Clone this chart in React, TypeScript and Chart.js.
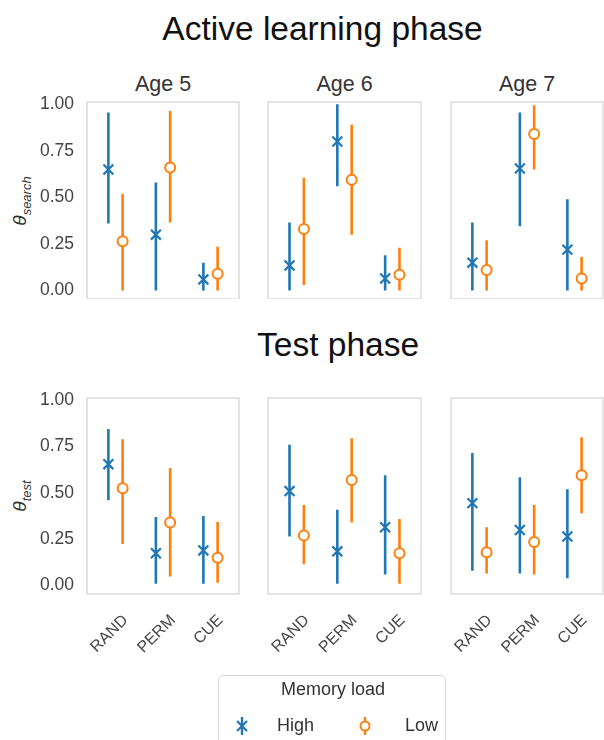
import React, { useEffect, useRef } from 'react';
import { Chart, registerables } from 'chart.js';

Chart.register(...registerables);

// ---------- data ----------
const categories = ['RAND', 'PERM', 'CUE'];
const ages = ['Age 5', 'Age 6', 'Age 7'];
const yTickValues = [0, 0.25, 0.5, 0.75, 1.0];
const seriesNames = ['High', 'Low'];

// Active learning phase (theta_search), rows = ages, cols = categories
const searchHighMean = [[0.65, 0.30, 0.06], [0.135, 0.80, 0.065], [0.15, 0.655, 0.22]];
const searchHighLo = [[0.36, 0.00, 0.00], [0.00, 0.56, 0.00], [0.00, 0.345, 0.00]];
const searchHighHi = [[0.955, 0.58, 0.15], [0.365, 1.00, 0.19], [0.365, 0.955, 0.49]];
const searchLowMean = [[0.265, 0.66, 0.09], [0.33, 0.595, 0.085], [0.11, 0.84, 0.065]];
const searchLowLo = [[0.00, 0.365, 0.00], [0.03, 0.30, 0.00], [0.00, 0.65, 0.00]];
const searchLowHi = [[0.52, 0.965, 0.235], [0.605, 0.89, 0.23], [0.27, 0.995, 0.18]];

// Test phase (theta_test)
const testHighMean = [[0.655, 0.175, 0.19], [0.51, 0.185, 0.315], [0.445, 0.30, 0.265]];
const testHighLo = [[0.46, 0.01, 0.01], [0.265, 0.01, 0.06], [0.08, 0.065, 0.04]];
const testHighHi = [[0.845, 0.37, 0.375], [0.76, 0.41, 0.595], [0.715, 0.585, 0.52]];
const testLowMean = [[0.525, 0.34, 0.15], [0.27, 0.57, 0.175], [0.18, 0.235, 0.595]];
const testLowLo = [[0.225, 0.05, 0.015], [0.115, 0.34, 0.01], [0.065, 0.06, 0.39]];
const testLowHi = [[0.79, 0.635, 0.345], [0.435, 0.795, 0.36], [0.315, 0.435, 0.80]];

// ---------- style / layout ----------
const BLUE = '#1f77b4';
const ORANGE = '#ff7f0e';
const FONT = '"Liberation Sans", Arial, Helvetica, sans-serif';
const TICK_COLOR = '#444444';
const COLS: [number, number][] = [[87, 239], [268, 421], [451, 603]];
const ROWS: [number, number][] = [[102, 299], [398, 594]];
const Y_AXIS_W = 60;
const PAD_TOP = 14;
const PAD_RIGHT = 1;
const X_AXIS_H = 72;
const OFFSET = 0.15;

const boxPlugin = {
  id: 'panelBox',
  beforeDatasetsDraw(chart: any) {
    const { ctx, chartArea } = chart;
    const { left, top, right, bottom } = chartArea;
    ctx.save();
    ctx.strokeStyle = '#dcdcdc';
    ctx.lineWidth = 1.5;
    ctx.strokeRect(left, top, right - left, bottom - top);
    ctx.restore();
  },
};

function errData(lo: number[], hi: number[], off: number) {
  const out: any[] = [];
  lo.forEach((l, i) => {
    out.push({ x: i + off, y: l });
    out.push({ x: i + off, y: hi[i] });
    out.push({ x: i + off, y: null });
  });
  return out;
}

function ptData(mean: number[], off: number) {
  return mean.map((m, i) => ({ x: i + off, y: m }));
}

function zeroPad(s: any) {
  s.paddingTop = 0;
  s.paddingBottom = 0;
  s.paddingLeft = 0;
  s.paddingRight = 0;
}

function buildChart(canvas: HTMLCanvasElement, row: number, col: number) {
  const hM = row === 0 ? searchHighMean[col] : testHighMean[col];
  const hL = row === 0 ? searchHighLo[col] : testHighLo[col];
  const hH = row === 0 ? searchHighHi[col] : testHighHi[col];
  const lM = row === 0 ? searchLowMean[col] : testLowMean[col];
  const lL = row === 0 ? searchLowLo[col] : testLowLo[col];
  const lH = row === 0 ? searchLowHi[col] : testLowHi[col];
  const bottomRow = row === 1;

  return new Chart(canvas, {
    type: 'line',
    data: {
      datasets: [
        {
          label: seriesNames[1],
          data: ptData(lM, OFFSET),
          showLine: false,
          pointStyle: 'circle',
          pointRadius: 5,
          pointBorderWidth: 2,
          pointBorderColor: ORANGE,
          pointBackgroundColor: '#ffffff',
          borderColor: ORANGE,
          order: 0,
          clip: false,
        },
        {
          label: seriesNames[1] + ' err',
          data: errData(lL, lH, OFFSET),
          borderColor: ORANGE,
          borderWidth: 2.6,
          pointRadius: 0,
          spanGaps: false,
          borderCapStyle: 'butt',
          order: 1,
          clip: false,
        },
        {
          label: seriesNames[0],
          data: ptData(hM, -OFFSET),
          showLine: false,
          pointStyle: 'crossRot',
          pointRadius: 7,
          pointBorderWidth: 2.2,
          pointBorderColor: BLUE,
          pointBackgroundColor: BLUE,
          borderColor: BLUE,
          order: 2,
          clip: false,
        },
        {
          label: seriesNames[0] + ' err',
          data: errData(hL, hH, -OFFSET),
          borderColor: BLUE,
          borderWidth: 2.6,
          pointRadius: 0,
          spanGaps: false,
          borderCapStyle: 'butt',
          order: 3,
          clip: false,
        },
      ] as any,
    },
    options: {
      responsive: false,
      animation: false,
      devicePixelRatio: 1,
      events: [],
      layout: { autoPadding: false, padding: { left: 0, top: PAD_TOP, right: PAD_RIGHT, bottom: 0 } },
      plugins: { legend: { display: false }, tooltip: { enabled: false } },
      scales: {
        x: {
          type: 'linear',
          min: -0.6,
          max: 2.6,
          afterBuildTicks: (s: any) => {
            s.ticks = categories.map((_, i) => ({ value: i }));
          },
          afterFit: (s: any) => {
            s.height = bottomRow ? X_AXIS_H : 0;
            zeroPad(s);
          },
          grid: { display: false, drawTicks: false },
          border: { display: false },
          ticks: {
            display: bottomRow,
            autoSkip: false,
            minRotation: 45,
            maxRotation: 45,
            padding: 17,
            labelOffset: 10,
            color: TICK_COLOR,
            font: { family: FONT, size: 16 },
            callback: (v: any) => categories[Math.round(Number(v))] ?? '',
          },
        },
        y: {
          min: -0.045,
          max: 1.012,
          afterBuildTicks: (s: any) => {
            s.ticks = yTickValues.map((v) => ({ value: v }));
          },
          afterFit: (s: any) => {
            s.width = Y_AXIS_W;
            zeroPad(s);
          },
          grid: { display: false, drawTicks: false },
          border: { display: false },
          ticks: {
            display: col === 0,
            padding: 13,
            color: TICK_COLOR,
            font: { family: FONT, size: 17.5 },
            callback: (v: any) => Number(v).toFixed(2),
          },
        },
      } as any,
    },
    plugins: [boxPlugin],
  } as any);
}

function Panel({ row, col }: { row: number; col: number }) {
  const ref = useRef<HTMLCanvasElement | null>(null);
  const [x0, x1] = COLS[col];
  const [y0, y1] = ROWS[row];
  const w = x1 - x0 + Y_AXIS_W + PAD_RIGHT;
  const h = y1 - y0 + PAD_TOP + (row === 1 ? X_AXIS_H : 0);
  useEffect(() => {
    if (!ref.current) return;
    const chart = buildChart(ref.current, row, col);
    return () => chart.destroy();
  }, [row, col]);
  return (
    <canvas
      ref={ref}
      width={w}
      height={h}
      style={{ position: 'absolute', left: x0 - Y_AXIS_W, top: y0 - PAD_TOP, width: w, height: h }}
    />
  );
}

function YLabel({ row, sub }: { row: number; sub: string }) {
  const [y0, y1] = ROWS[row];
  const cy = (y0 + y1) / 2;
  return (
    <div
      style={{
        position: 'absolute',
        left: 20 - 60,
        top: cy - 12,
        width: 120,
        height: 24,
        lineHeight: '24px',
        textAlign: 'center',
        transform: 'rotate(-90deg)',
        fontFamily: FONT,
        color: '#333',
        fontSize: 19,
        whiteSpace: 'nowrap',
      }}
    >
      <span style={{ fontStyle: 'italic' }}>θ</span>
      <sub style={{ fontSize: 13, fontStyle: 'italic' }}>{sub}</sub>
    </div>
  );
}

export default function App() {
  const titleStyle: React.CSSProperties = {
    position: 'absolute',
    fontFamily: FONT,
    fontSize: 33.5,
    color: '#111',
    whiteSpace: 'nowrap',
    lineHeight: '38px',
  };
  const legendText: React.CSSProperties = {
    position: 'absolute',
    top: 713,
    fontSize: 18,
    color: '#333',
    fontFamily: FONT,
    lineHeight: '24px',
  };
  return (
    <div
      style={{
        position: 'fixed',
        left: 0,
        top: 0,
        width: 604,
        height: 740,
        background: '#ffffff',
        overflow: 'hidden',
        fontFamily: FONT,
      }}
    >
      <div style={{ ...titleStyle, left: 0, width: 645, textAlign: 'center', top: 10 }}>Active learning phase</div>
      <div style={{ ...titleStyle, left: 257, top: 326 }}>Test phase</div>

      {ages.map((a, c) => (
        <div
          key={a}
          style={{
            position: 'absolute',
            left: COLS[c][0],
            width: COLS[c][1] - COLS[c][0],
            top: 72,
            textAlign: 'center',
            fontSize: 21.5,
            color: '#333',
            fontFamily: FONT,
            lineHeight: '24px',
          }}
        >
          {a}
        </div>
      ))}

      <YLabel row={0} sub="search" />
      <YLabel row={1} sub="test" />

      {[0, 1].map((r) => [0, 1, 2].map((c) => <Panel key={`${r}-${c}`} row={r} col={c} />))}

      <div
        style={{
          position: 'absolute',
          left: 218,
          top: 675,
          width: 228,
          height: 90,
          border: '1.5px solid #d6d6d6',
          borderRadius: 5,
          boxSizing: 'border-box',
        }}
      />
      <div
        style={{
          position: 'absolute',
          left: 218,
          width: 230,
          top: 678,
          textAlign: 'center',
          fontSize: 18,
          color: '#333',
          fontFamily: FONT,
          lineHeight: '22px',
        }}
      >
        Memory load
      </div>
      <svg style={{ position: 'absolute', left: 232, top: 714 }} width={20} height={24}>
        <line x1={10} y1={3} x2={10} y2={21} stroke={BLUE} strokeWidth={2.4} />
        <line x1={5} y1={7} x2={15} y2={17} stroke={BLUE} strokeWidth={2.2} />
        <line x1={15} y1={7} x2={5} y2={17} stroke={BLUE} strokeWidth={2.2} />
      </svg>
      <div style={{ ...legendText, left: 277 }}>{seriesNames[0]}</div>
      <svg style={{ position: 'absolute', left: 355, top: 714 }} width={20} height={24}>
        <line x1={10} y1={3} x2={10} y2={21} stroke={ORANGE} strokeWidth={2.4} />
        <circle cx={10} cy={12} r={4.5} fill="#ffffff" stroke={ORANGE} strokeWidth={2} />
      </svg>
      <div style={{ ...legendText, left: 405 }}>{seriesNames[1]}</div>
    </div>
  );
}
